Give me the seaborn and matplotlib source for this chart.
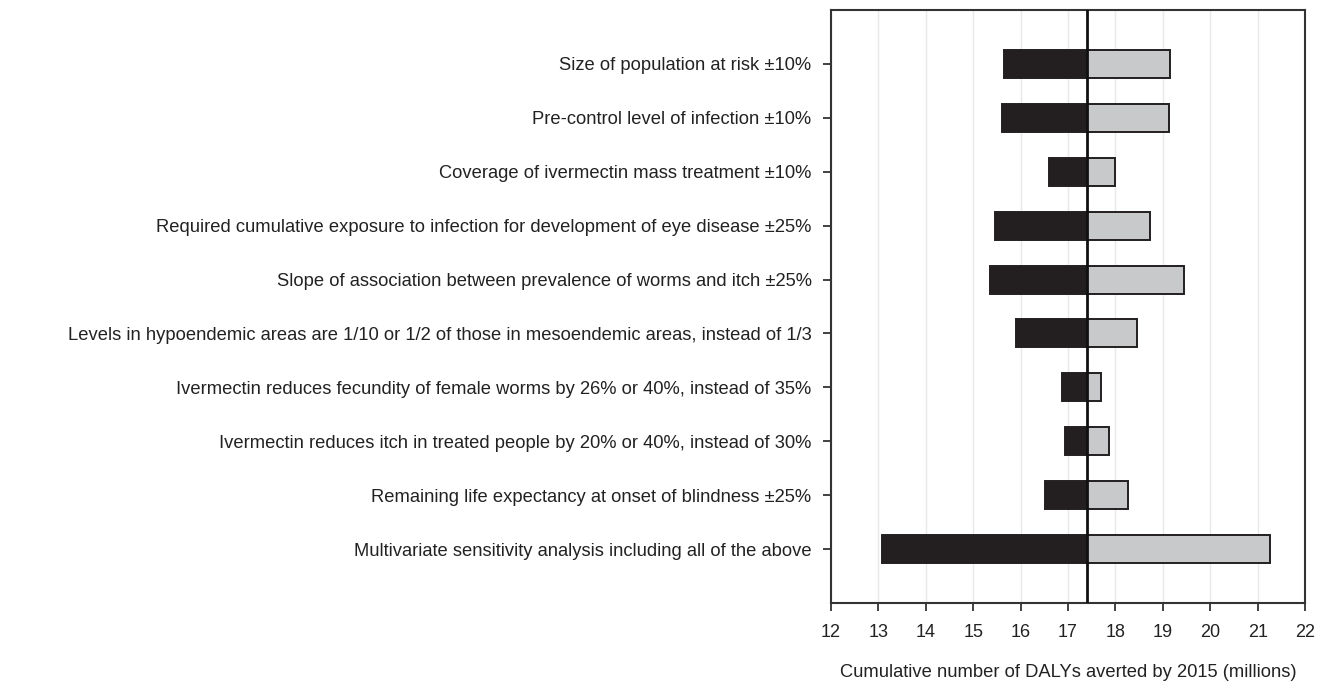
import matplotlib
matplotlib.use("Agg")
import matplotlib.pyplot as plt
import seaborn as sns
import pandas as pd

# Sensitivity parameters (top to bottom)
parameters = [
    "Size of population at risk \u00b110%",
    "Pre-control level of infection \u00b110%",
    "Coverage of ivermectin mass treatment \u00b110%",
    "Required cumulative exposure to infection for development of eye disease \u00b125%",
    "Slope of association between prevalence of worms and itch \u00b125%",
    "Levels in hypoendemic areas are 1/10 or 1/2 of those in mesoendemic areas, instead of 1/3",
    "Ivermectin reduces fecundity of female worms by 26% or 40%, instead of 35%",
    "Ivermectin reduces itch in treated people by 20% or 40%, instead of 30%",
    "Remaining life expectancy at onset of blindness \u00b125%",
    "Multivariate sensitivity analysis including all of the above",
]
# DALYs averted (millions) under the low and high assumption
low_values = [15.65, 15.61, 16.59, 15.45, 15.35, 15.91, 16.88, 16.93, 16.52, 13.07]
high_values = [19.15, 19.12, 18.00, 18.73, 19.45, 18.46, 17.69, 17.86, 18.26, 21.27]
base_value = 17.4
x_ticks = list(range(12, 23))

df = pd.DataFrame({
    "parameter": parameters,
    "low_dev": [v - base_value for v in low_values],
    "high_dev": [v - base_value for v in high_values],
})

sns.set_theme(style="white")
plt.rcParams["font.family"] = ["Liberation Sans", "DejaVu Sans"]

fig = plt.figure(figsize=(13.26, 6.82), dpi=100)
ax = fig.add_axes([0.6267, 0.1158, 0.3575, 0.8695])

text_color = "#222222"
edge_color = "#231f20"

# light vertical grid behind the bars
for t in x_ticks:
    ax.axvline(t, color="#e8e8e8", lw=1.0, zorder=0)

sns.barplot(data=df, x="high_dev", y="parameter", orient="h", left=base_value,
            color="#c8c9cb", edgecolor=edge_color, linewidth=1.4, width=0.52,
            saturation=1, ax=ax, zorder=2)
sns.barplot(data=df, x="low_dev", y="parameter", orient="h", left=base_value,
            color="#231f20", edgecolor=edge_color, linewidth=1.4, width=0.52,
            saturation=1, ax=ax, zorder=2)

ax.axvline(base_value, color="#111111", lw=2.0, zorder=3)

ax.set_xlim(12, 22)
ax.set_ylim(len(parameters), -1)
ax.set_xticks(x_ticks)
ax.set_xticklabels([str(t) for t in x_ticks])
ax.set_ylabel("")
ax.set_xlabel("Cumulative number of DALYs averted by 2015 (millions)",
              fontsize=13.2, color=text_color, labelpad=17)

for s in ax.spines.values():
    s.set_visible(True)
    s.set_color("#333333")
    s.set_linewidth(1.5)

ax.tick_params(axis="both", which="major", direction="out", length=6, width=1.3,
               color="#333333", labelsize=13, labelcolor=text_color)
ax.tick_params(axis="y", pad=8, left=True, labelsize=13.2)
ax.tick_params(axis="x", pad=9, bottom=True)
ax.grid(False)

fig.savefig("out.png", dpi=100)
